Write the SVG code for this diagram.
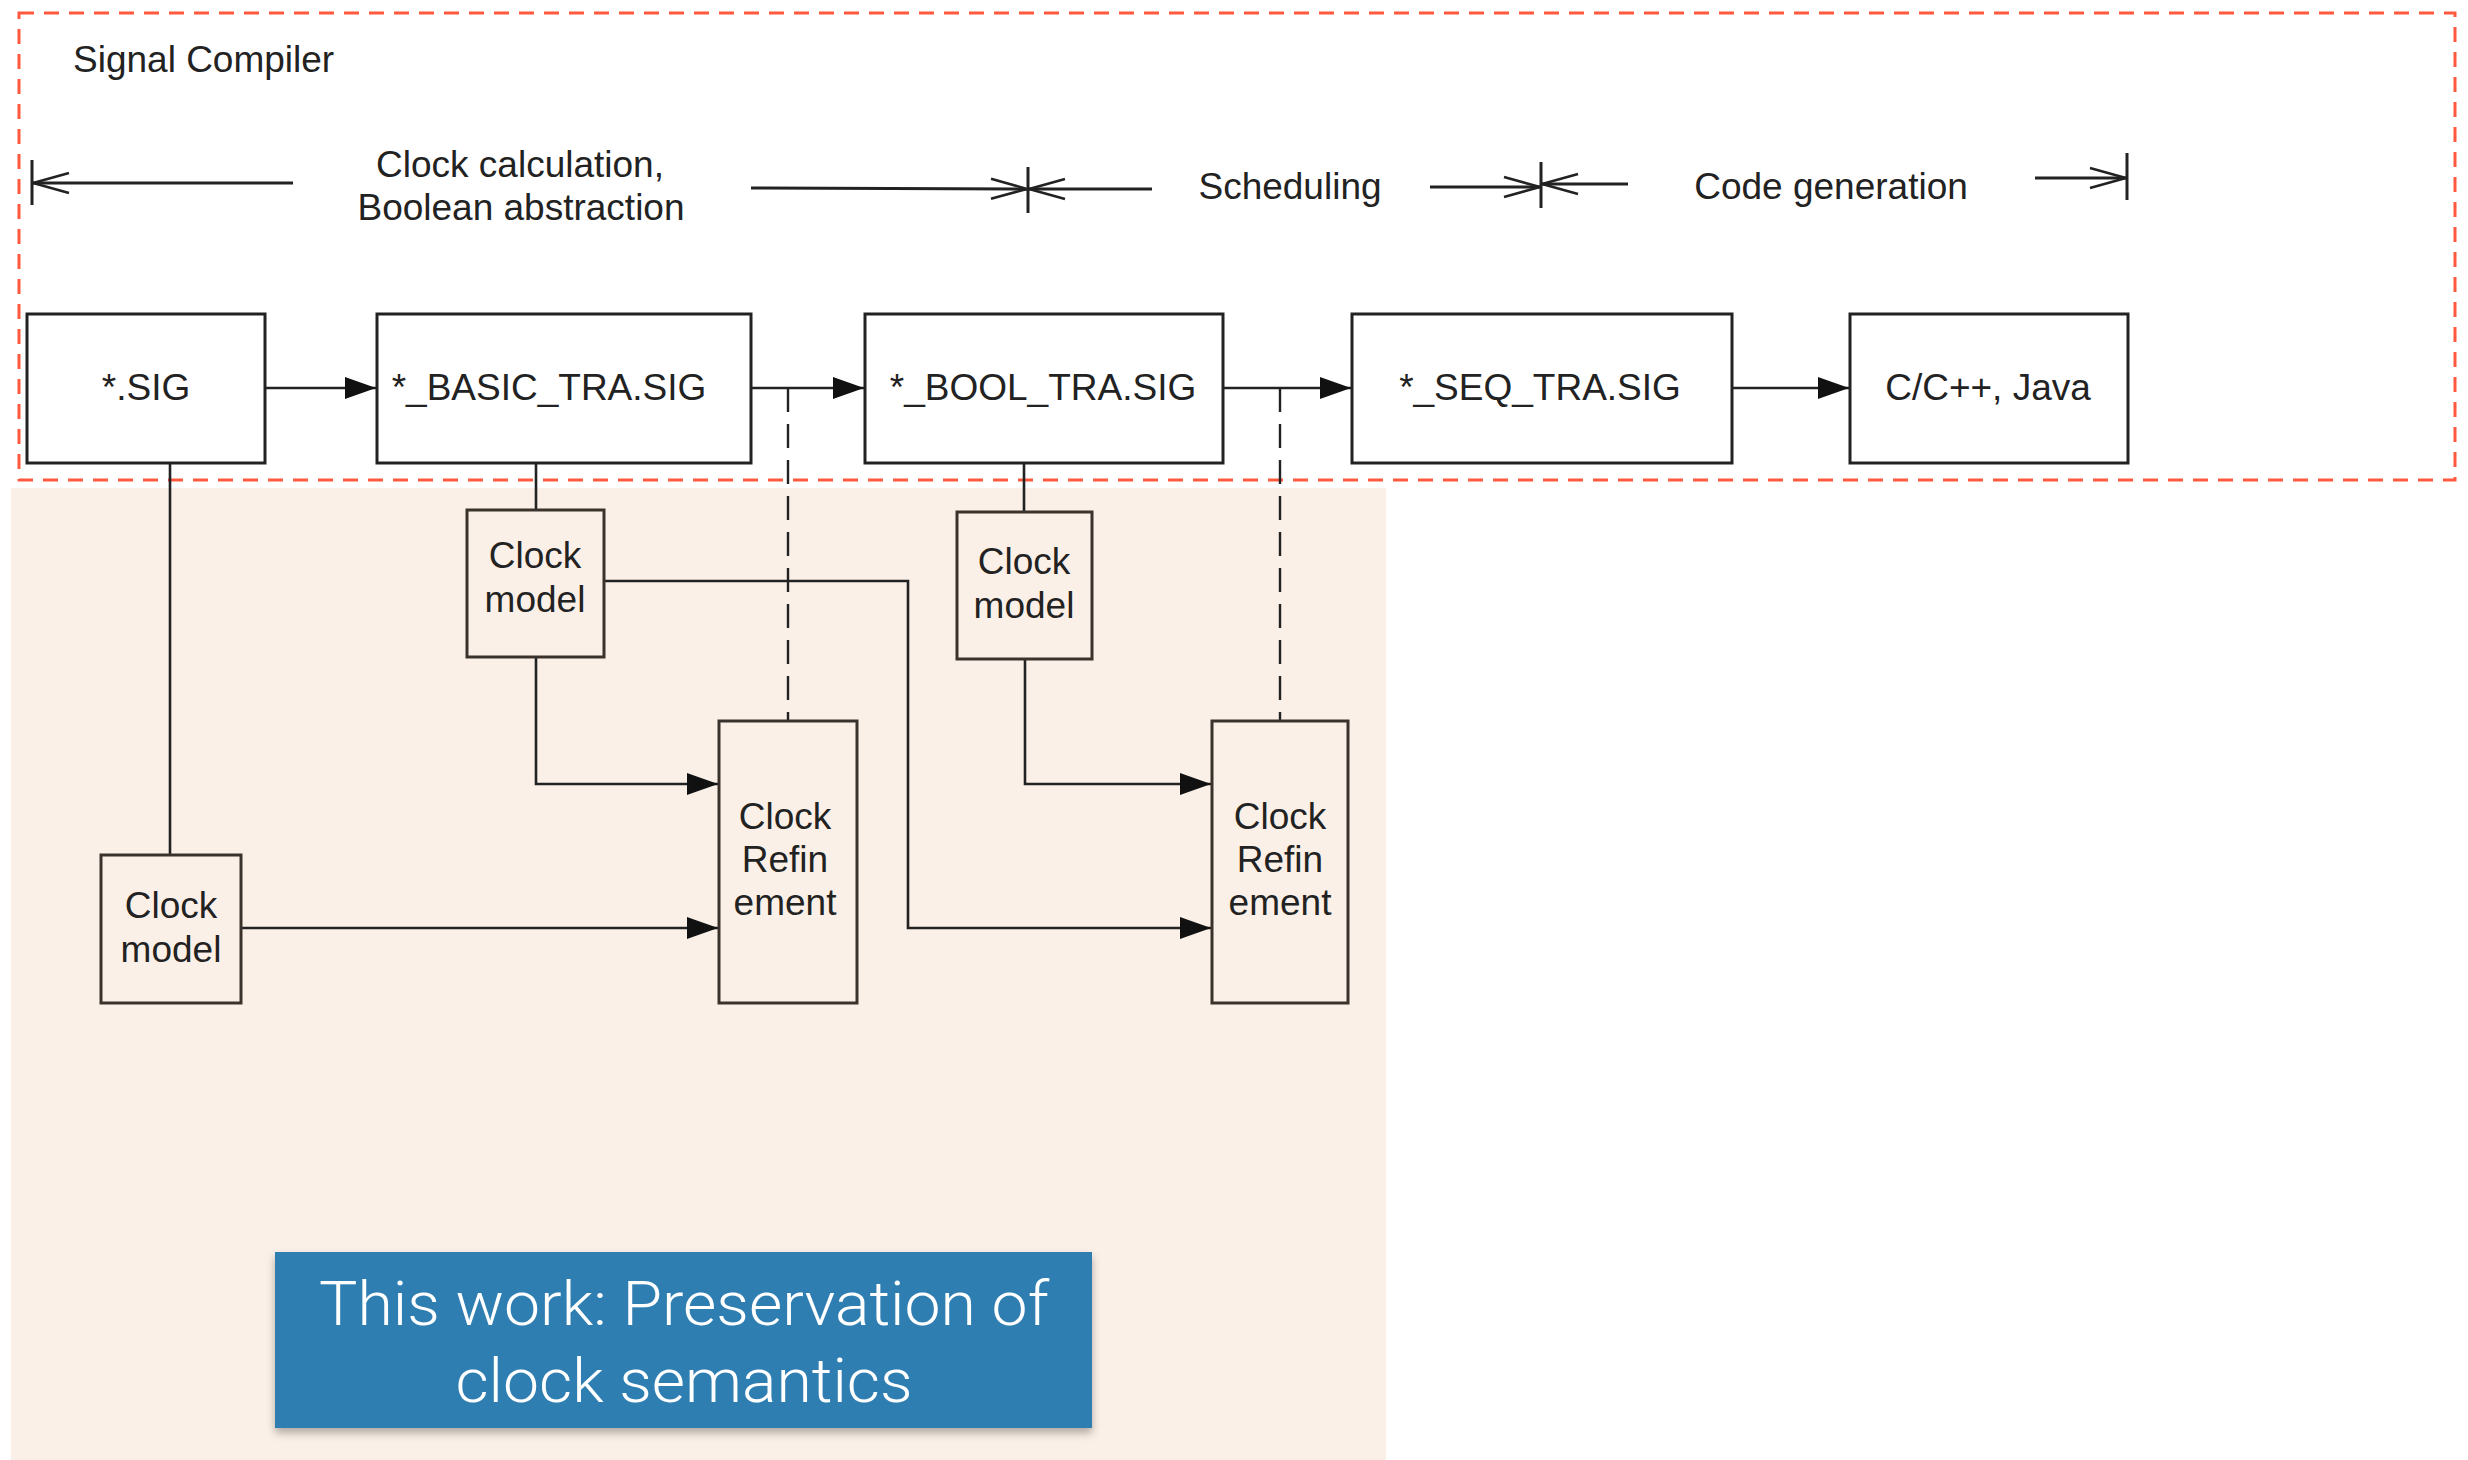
<svg xmlns="http://www.w3.org/2000/svg" width="2468" height="1460" viewBox="0 0 2468 1460">
<style>
  .lbl { font-family: "Liberation Sans", Arial, Helvetica, sans-serif; font-size: 37px; fill: #222; }
  .mid { text-anchor: middle; }
  .box { fill: #ffffff; stroke: #222; stroke-width: 3; }
  .sub { fill: #fbf0e7; stroke: #3a332d; stroke-width: 3; }
  .ln { fill: none; stroke: #222; stroke-width: 2.6; }
  .dim { fill: none; stroke: #222; stroke-width: 3; }
  .dash { fill: none; stroke: #222; stroke-width: 2.4; stroke-dasharray: 24 12; }
  .banner { font-family: Roboto, "Noto Sans", "Liberation Sans", sans-serif; font-weight: 300; font-size: 62px; fill: #ffffff; text-anchor: middle; }
</style>
<defs>
  <marker id="tri" markerUnits="userSpaceOnUse" markerWidth="32" markerHeight="24" viewBox="0 0 32 24" refX="31" refY="12" orient="auto">
    <path d="M0,1 L31,12 L0,23 Z" fill="#111"/>
  </marker>
  <marker id="chev" markerUnits="userSpaceOnUse" markerWidth="40" markerHeight="26" viewBox="0 0 40 26" refX="38" refY="13" orient="auto">
    <path d="M2,3 L38,13 L2,23" fill="none" stroke="#222" stroke-width="2.6"/>
  </marker>
  <filter id="shadow" x="-5%" y="-10%" width="110%" height="130%">
    <feDropShadow dx="0" dy="5" stdDeviation="4" flood-color="#000" flood-opacity="0.3"/>
  </filter>
</defs>

<!-- backgrounds -->
<rect width="2468" height="1460" fill="#ffffff"/>
<rect id="highlight-area" x="11" y="488" width="1375" height="972" fill="#fbf0e7"/>

<g id="signal-compiler">
  <rect x="19" y="13" width="2436" height="467" fill="none" stroke="#ff5a40" stroke-width="3" stroke-dasharray="15 10"/>
  <text class="lbl" x="73" y="72">Signal Compiler</text>
</g>

<!-- phase dimension markers -->
<g id="phases">
  <line class="dim" x1="32" y1="160" x2="32" y2="205"/>
  <line class="dim" x1="1028" y1="167" x2="1028" y2="213"/>
  <line class="dim" x1="1541" y1="162" x2="1541" y2="208"/>
  <line class="dim" x1="2127" y1="153" x2="2127" y2="200"/>
  <line class="dim" x1="293" y1="183" x2="33" y2="183" marker-end="url(#chev)"/>
  <line class="dim" x1="751" y1="188" x2="1027" y2="189" marker-end="url(#chev)"/>
  <line class="dim" x1="1152" y1="189" x2="1029" y2="189" marker-end="url(#chev)"/>
  <line class="dim" x1="1430" y1="187" x2="1540" y2="187" marker-end="url(#chev)"/>
  <line class="dim" x1="1628" y1="184" x2="1542" y2="184" marker-end="url(#chev)"/>
  <line class="dim" x1="2035" y1="178" x2="2126" y2="178" marker-end="url(#chev)"/>
  <text class="lbl mid" x="520" y="177">Clock calculation,</text>
  <text class="lbl mid" x="521" y="220">Boolean abstraction</text>
  <text class="lbl mid" x="1290" y="199">Scheduling</text>
  <text class="lbl mid" x="1831" y="199">Code generation</text>
</g>

<!-- connectors -->
<g id="connectors">
  <line class="ln" x1="265" y1="388" x2="376" y2="388" marker-end="url(#tri)"/>
  <line class="ln" x1="751" y1="388" x2="864" y2="388" marker-end="url(#tri)"/>
  <line class="ln" x1="1223" y1="388" x2="1351" y2="388" marker-end="url(#tri)"/>
  <line class="ln" x1="1732" y1="388" x2="1849" y2="388" marker-end="url(#tri)"/>
  <line class="ln" x1="170" y1="463" x2="170" y2="855"/>
  <line class="ln" x1="536" y1="463" x2="536" y2="510"/>
  <line class="ln" x1="1024" y1="463" x2="1024" y2="512"/>
  <polyline class="ln" points="536,657 536,784 718,784" marker-end="url(#tri)"/>
  <polyline class="ln" points="604,581 908,581 908,928 1211,928" marker-end="url(#tri)"/>
  <line class="ln" x1="241" y1="928" x2="718" y2="928" marker-end="url(#tri)"/>
  <polyline class="ln" points="1025,659 1025,784 1211,784" marker-end="url(#tri)"/>
  <line class="dash" x1="788" y1="388" x2="788" y2="721"/>
  <line class="dash" x1="1280" y1="388" x2="1280" y2="721"/>
</g>

<!-- top row nodes -->
<g id="node-sig">
  <rect class="box" x="27" y="314" width="238" height="149"/>
  <text class="lbl mid" x="146" y="400">*.SIG</text>
</g>
<g id="node-basic">
  <rect class="box" x="377" y="314" width="374" height="149"/>
  <text class="lbl mid" x="549" y="400">*_BASIC_TRA.SIG</text>
</g>
<g id="node-bool">
  <rect class="box" x="865" y="314" width="358" height="149"/>
  <text class="lbl mid" x="1043" y="400">*_BOOL_TRA.SIG</text>
</g>
<g id="node-seq">
  <rect class="box" x="1352" y="314" width="380" height="149"/>
  <text class="lbl mid" x="1540" y="400">*_SEQ_TRA.SIG</text>
</g>
<g id="node-code">
  <rect class="box" x="1850" y="314" width="278" height="149"/>
  <text class="lbl mid" x="1988" y="400">C/C++, Java</text>
</g>

<!-- lower nodes -->
<g id="clock-model-1">
  <rect class="sub" x="467" y="510" width="137" height="147"/>
  <text class="lbl mid" x="535" y="568">Clock</text>
  <text class="lbl mid" x="535" y="612">model</text>
</g>
<g id="clock-model-2">
  <rect class="sub" x="957" y="512" width="135" height="147"/>
  <text class="lbl mid" x="1024" y="574">Clock</text>
  <text class="lbl mid" x="1024" y="618">model</text>
</g>
<g id="clock-model-0">
  <rect class="sub" x="101" y="855" width="140" height="148"/>
  <text class="lbl mid" x="171" y="918">Clock</text>
  <text class="lbl mid" x="171" y="962">model</text>
</g>
<g id="clock-refinement-1">
  <rect class="sub" x="719" y="721" width="138" height="282"/>
  <text class="lbl mid" x="785" y="829">Clock</text>
  <text class="lbl mid" x="785" y="872">Refin</text>
  <text class="lbl mid" x="785" y="915">ement</text>
</g>
<g id="clock-refinement-2">
  <rect class="sub" x="1212" y="721" width="136" height="282"/>
  <text class="lbl mid" x="1280" y="829">Clock</text>
  <text class="lbl mid" x="1280" y="872">Refin</text>
  <text class="lbl mid" x="1280" y="915">ement</text>
</g>

<!-- banner -->
<g id="this-work">
  <rect x="275" y="1252" width="817" height="176" fill="#2e7eb2" filter="url(#shadow)"/>
  <text class="banner" x="684" y="1325" textLength="730" lengthAdjust="spacingAndGlyphs">This work: Preservation of</text>
  <text class="banner" x="684" y="1402" textLength="457" lengthAdjust="spacingAndGlyphs">clock semantics</text>
</g>
</svg>
